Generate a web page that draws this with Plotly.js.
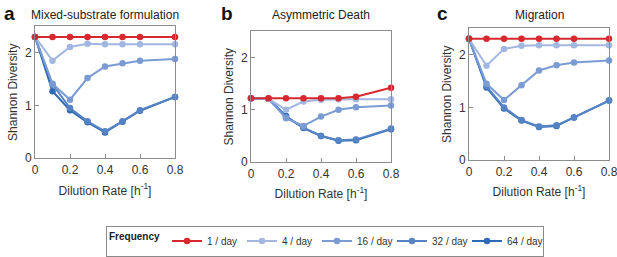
<!DOCTYPE html>
<html>
<head>
<meta charset="utf-8">
<script src="https://cdn.plot.ly/plotly-3.0.1.min.js"></script>
<style>html,body{margin:0;padding:0;background:#fff}#chart{width:617px;height:257px}</style>
</head>
<body>
<div id="chart"></div>
<script>
var dilution = [0, 0.1, 0.2, 0.3, 0.4, 0.5, 0.6, 0.8];
var xTicks = [0, 0.2, 0.4, 0.6, 0.8];
var yTicks = [0, 1, 2];
var frequencies = ['1 / day', '4 / day', '16 / day', '32 / day', '64 / day'];
var panelTitles = ['Mixed-substrate formulation', 'Asymmetric Death', 'Migration'];
var panelLetters = ['a', 'b', 'c'];

// Panel a: Mixed-substrate formulation
var mixed_f1  = [2.30, 2.30, 2.30, 2.30, 2.30, 2.30, 2.30, 2.30];
var mixed_f4  = [2.30, 1.85, 2.11, 2.17, 2.16, 2.16, 2.16, 2.16];
var mixed_f16 = [2.30, 1.41, 1.11, 1.52, 1.74, 1.80, 1.85, 1.88];
var mixed_f32 = [2.30, 1.40, 0.95, 0.70, 0.51, 0.70, 0.91, 1.16];
var mixed_f64 = [2.30, 1.27, 0.91, 0.68, 0.49, 0.69, 0.90, 1.16];

// Panel b: Asymmetric Death
var death_f1  = [1.22, 1.22, 1.22, 1.22, 1.22, 1.22, 1.25, 1.42];
var death_f4  = [1.22, 1.21, 1.00, 1.16, 1.19, 1.20, 1.20, 1.20];
var death_f16 = [1.22, 1.21, 0.84, 0.69, 0.87, 1.00, 1.05, 1.08];
var death_f32 = [1.22, 1.21, 0.86, 0.66, 0.50, 0.42, 0.43, 0.64];
var death_f64 = [1.22, 1.21, 0.88, 0.65, 0.50, 0.41, 0.42, 0.63];

// Panel c: Migration
var migr_f1  = [2.30, 2.30, 2.30, 2.30, 2.30, 2.30, 2.30, 2.30];
var migr_f4  = [2.30, 1.79, 2.11, 2.17, 2.18, 2.18, 2.18, 2.18];
var migr_f16 = [2.30, 1.45, 1.14, 1.42, 1.70, 1.80, 1.85, 1.89];
var migr_f32 = [2.30, 1.40, 1.00, 0.76, 0.64, 0.66, 0.81, 1.13];
var migr_f64 = [2.30, 1.38, 0.98, 0.75, 0.63, 0.65, 0.81, 1.13];

var colors = ['#d7282f', '#a2b7df', '#7b9bd3', '#5583c4', '#2e6bb5'];

var panels = [
  [mixed_f1, mixed_f4, mixed_f16, mixed_f32, mixed_f64],
  [death_f1, death_f4, death_f16, death_f32, death_f64],
  [migr_f1, migr_f4, migr_f16, migr_f32, migr_f64]
];

var W = 617, H = 257;
var boxes = [
  {l: 35, r: 175, t: 27, b: 162},
  {l: 251, r: 391, t: 32, b: 166},
  {l: 469, r: 609, t: 29, b: 164}
];

var FONT = 'Liberation Sans, Arial, Helvetica, sans-serif';
var traces = [];
panels.forEach(function (series, p) {
  var sfx = p === 0 ? '' : String(p + 1);
  // draw darkest first so red ends on top
  for (var i = series.length - 1; i >= 0; i--) {
    traces.push({
      type: 'scatter', mode: 'lines+markers',
      x: dilution, y: series[i],
      xaxis: 'x' + sfx, yaxis: 'y' + sfx,
      name: frequencies[i], legendgroup: frequencies[i], legendrank: i + 1,
      showlegend: p === 0,
      line: {color: colors[i], width: 2},
      marker: {color: colors[i], size: 6.5},
      cliponaxis: false
    });
  }
});

var layout = {
  width: W, height: H,
  margin: {l: 0, r: 0, t: 0, b: 0},
  paper_bgcolor: '#fff', plot_bgcolor: '#fff',
  font: {family: FONT, size: 12, color: '#333'},
  showlegend: true,
  legend: {
    orientation: 'h', x: 106 / W, y: 1 - 231 / H, xanchor: 'left', yanchor: 'top',
    bordercolor: '#8a8a8a', borderwidth: 1,
    font: {size: 10, color: '#333'},
    title: {text: '<b>Frequency</b>', side: 'left', font: {size: 10, color: '#222'}},
    itemwidth: 30, entrywidth: 30, entrywidthmode: 'pixels',
    tracegroupgap: 0
  },
  annotations: []
};

boxes.forEach(function (bx, p) {
  var sfx = p === 0 ? '' : String(p + 1);
  var common = {
    showline: true, linecolor: '#8c8c8c', linewidth: 1, mirror: true,
    ticks: 'inside', ticklen: 4, tickcolor: '#8c8c8c',
    showgrid: false, zeroline: false, ticklabeloverflow: 'allow',
    tickfont: {size: 12, color: '#333'}
  };
  layout['xaxis' + sfx] = Object.assign({}, common, {
    domain: [bx.l / W, bx.r / W], anchor: 'y' + sfx,
    range: [0, 0.8], tickvals: xTicks,
    title: {text: 'Dilution Rate [h<sup>-1</sup>]', font: {size: 12, color: '#333'}, standoff: 10}
  });
  layout['yaxis' + sfx] = Object.assign({}, common, {
    domain: [1 - bx.b / H, 1 - bx.t / H], anchor: 'x' + sfx,
    range: [0, 2.5], tickvals: yTicks,
    title: {text: 'Shannon Diversity', font: {size: 12, color: '#333'}, standoff: 4}
  });
  layout.annotations.push({
    xref: 'paper', yref: 'paper', x: (bx.l + bx.r) / 2 / W, y: 1 - 15 / H,
    xanchor: 'center', yanchor: 'middle', showarrow: false,
    text: panelTitles[p], font: {size: 12, color: '#222'}
  });
});
var letterX = [2, 219, 435];
panelLetters.forEach(function (lt, p) {
  layout.annotations.push({
    xref: 'paper', yref: 'paper', x: letterX[p] / W, y: 1 - 14 / H,
    xanchor: 'left', yanchor: 'middle', showarrow: false,
    text: '<b>' + lt + '</b>', font: {size: 19, color: '#111'}
  });
});

Plotly.newPlot('chart', traces, layout, {displayModeBar: false, staticPlot: true});
</script>
</body>
</html>
